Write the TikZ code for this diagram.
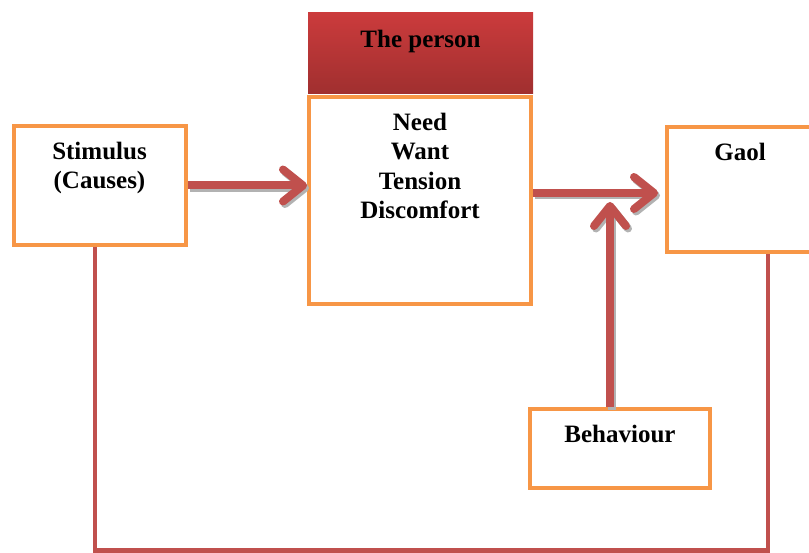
\documentclass[tikz,border=0pt]{standalone}
\usepackage{fontspec}
\setmainfont{Liberation Serif}
\usetikzlibrary{arrows.meta}

\definecolor{boxorange}{HTML}{F79646}
\definecolor{arrowred}{HTML}{C0504D}
\definecolor{headtop}{HTML}{CB3B3C}
\definecolor{headbottom}{HTML}{A02F2F}

\tikzset{
  box/.style={draw=boxorange, line width=4pt, fill=white, rectangle},
  boxtext/.style={anchor=north, inner sep=0pt, align=center, yshift=-17.5pt,
    font=\bfseries\fontsize{25}{29.5}\selectfont},
  flow/.style={draw=arrowred, line width=8pt, -{Straight Barb[round,length=20pt,width=32pt]}},
  flowshadow/.style={flow, draw=gray!60, transform canvas={xshift=2pt,yshift=-2.5pt}},
  loopline/.style={draw=arrowred, line width=4.5pt},
}

\begin{document}
\begin{tikzpicture}[x=1pt,y=-1pt]
\useasboundingbox (0,0) rectangle (809,553);

\node[box, minimum width=172pt, minimum height=119pt, label={[boxtext]north:{Stimulus\\(Causes)}}] (stimulus) at (99.5,185.5) {};
\node[top color=headtop, bottom color=headbottom, minimum width=225pt, minimum height=81pt, inner sep=0pt, label={[boxtext]north:{The person}}] (header) at (420.5,53.5) {};
\node[box, minimum width=222pt, minimum height=207pt, label={[boxtext]north:{Need\\Want\\Tension\\Discomfort}}] (person) at (420,200.5) {};
\node[box, minimum width=146pt, minimum height=125pt, label={[boxtext]north:{Gaol}}] (gaol) at (740,189.5) {};
\node[box, minimum width=180pt, minimum height=79pt, label={[boxtext]north:{Behaviour}}] (behaviour) at (620,448.5) {};

\coordinate (meet) at (610,193);

% arrow shadows
\draw[flowshadow] (stimulus.east) -- (stimulus.east -| person.west);
\draw[flowshadow] (meet -| person.east) -- ([xshift=-7pt]meet -| gaol.west);
\draw[flowshadow] ([xshift=-10pt]behaviour.north) -- ([yshift=-9pt]meet);

% arrows
\draw[flow] (stimulus.east) -- (stimulus.east -| person.west);
\draw[flow] (meet -| person.east) -- ([xshift=-7pt]meet -| gaol.west);
\draw[flow] ([xshift=-10pt]behaviour.north) -- ([yshift=-9pt]meet);

% feedback line
\draw[loopline] ([xshift=-4.5pt]stimulus.south) -- ++(0,303.5) -| ([xshift=28pt]gaol.south);
\end{tikzpicture}
\end{document}
